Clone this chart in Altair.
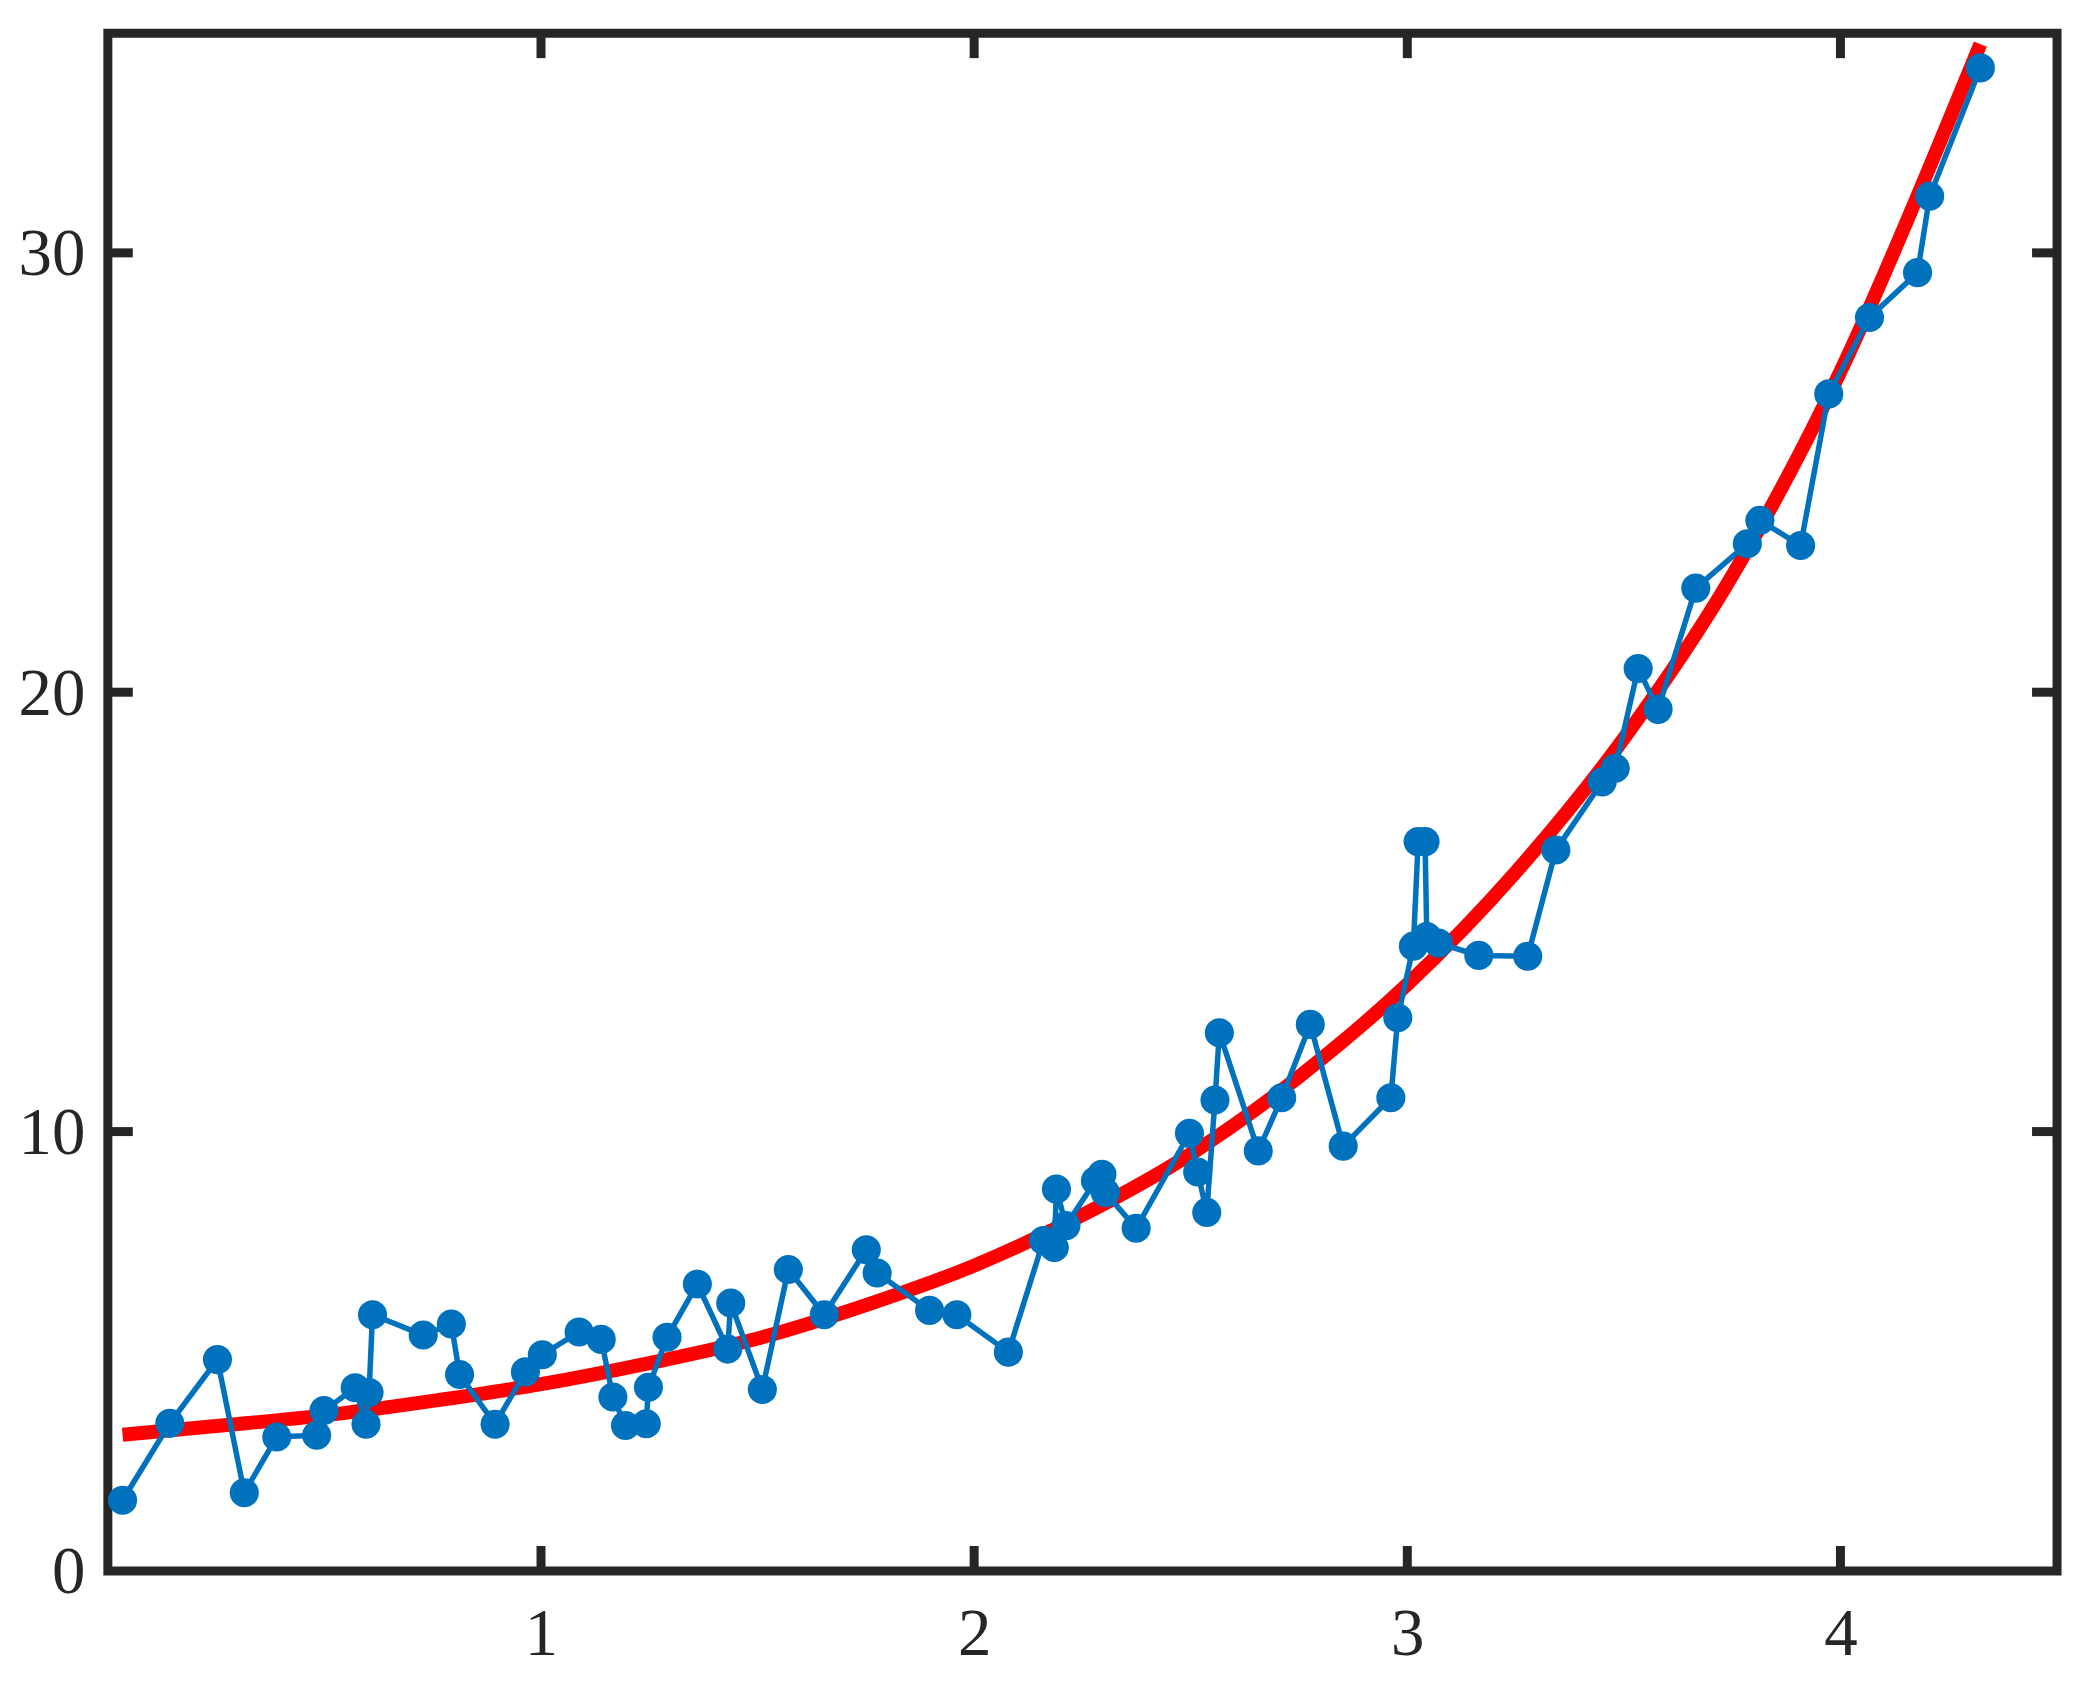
import altair as alt
import pandas as pd

# Observed data (blue markers, connected in order)
x_data = [0.034, 0.143, 0.253, 0.315, 0.390, 0.482, 0.499, 0.571, 0.596, 0.603,
          0.611, 0.728, 0.793, 0.812, 0.894, 0.964, 1.003, 1.088, 1.139, 1.166,
          1.195, 1.243, 1.248, 1.291, 1.361, 1.431, 1.438, 1.511, 1.571, 1.654,
          1.751, 1.776, 1.897, 1.960, 2.079, 2.160, 2.185, 2.190, 2.212, 2.280,
          2.295, 2.303, 2.374, 2.497, 2.516, 2.537, 2.556, 2.566, 2.656, 2.710,
          2.776, 2.852, 2.962, 2.978, 3.014, 3.025, 3.041, 3.045, 3.072, 3.165,
          3.278, 3.343, 3.450, 3.480, 3.533, 3.579, 3.666, 3.785, 3.814, 3.908,
          3.973, 4.067, 4.178, 4.206, 4.323]
y_data = [1.61, 3.36, 4.81, 1.78, 3.05, 3.09, 3.65, 4.17, 3.34, 4.06,
          5.83, 5.37, 5.62, 4.47, 3.34, 4.53, 4.92, 5.44, 5.27, 3.96,
          3.31, 3.35, 4.18, 5.32, 6.53, 5.05, 6.10, 4.13, 6.86, 5.83,
          7.31, 6.78, 5.93, 5.83, 4.98, 7.52, 7.36, 8.69, 7.86, 8.88,
          9.03, 8.61, 7.80, 9.96, 9.08, 8.16, 10.72, 12.25, 9.56, 10.77,
          12.44, 9.67, 10.77, 12.59, 14.22, 16.60, 16.60, 14.44, 14.29, 14.01,
          13.99, 16.41, 17.96, 18.27, 20.54, 19.61, 22.37, 23.38, 23.91, 23.34,
          26.79, 28.53, 29.55, 31.29, 34.21]

# Fitted curve (red)
fit_x = [0.034, 0.25, 0.5, 0.75, 1.0, 1.25, 1.5, 1.75, 2.0, 2.25,
         2.5, 2.75, 3.0, 3.25, 3.5, 3.75, 4.0, 4.25, 4.323]
fit_y = [3.10, 3.30, 3.54, 3.87, 4.25, 4.73, 5.29, 6.05, 6.95, 8.10,
         9.49, 11.25, 13.35, 15.90, 18.95, 22.65, 27.30, 33.00, 34.75]

x_ticks = [1, 2, 3, 4]
y_ticks = [0, 10, 20, 30]
y_tick_marks = [10, 20, 30]

AXIS_COLOR = "#262626"
FONT = "Liberation Serif"
FS = 67

data = pd.DataFrame({"x": x_data, "y": y_data, "i": list(range(len(x_data)))})
fit = pd.DataFrame({"x": fit_x, "y": fit_y})
xt = pd.DataFrame({"t": x_ticks})
yt = pd.DataFrame({"t": y_tick_marks})

xscale = alt.Scale(domain=[0, 4.5], nice=False, zero=False)
yscale = alt.Scale(domain=[0, 35], nice=False, zero=False)

x_axis = alt.Axis(values=x_ticks, ticks=False, tickSize=0, domain=False, grid=False,
                  labelFont=FONT, labelFontSize=FS, labelColor=AXIS_COLOR,
                  labelPadding=31, title=None, format="d")
y_axis = alt.Axis(values=y_ticks, ticks=False, tickSize=0, domain=False, grid=False,
                  labelFont=FONT, labelFontSize=FS, labelColor=AXIS_COLOR,
                  labelPadding=23, labelOffset=2, title=None, format="d")

fit_line = alt.Chart(fit).mark_line(
    color="#FF0000", strokeWidth=14, interpolate="monotone"
).encode(
    x=alt.X("x:Q", scale=xscale, axis=x_axis),
    y=alt.Y("y:Q", scale=yscale, axis=y_axis),
)

data_line = alt.Chart(data).mark_line(color="#0072BD", strokeWidth=5.5).encode(
    x=alt.X("x:Q", scale=xscale, axis=x_axis),
    y=alt.Y("y:Q", scale=yscale, axis=y_axis),
    order="i:Q",
)

points = alt.Chart(data).mark_circle(color="#0072BD", size=850, opacity=1).encode(
    x=alt.X("x:Q", scale=xscale, axis=x_axis),
    y=alt.Y("y:Q", scale=yscale, axis=y_axis),
)

TL = 25
TW = 9
bottom_ticks = alt.Chart(xt).mark_rule(color=AXIS_COLOR, strokeWidth=TW, y2Offset=-TL).encode(
    x=alt.X("t:Q", scale=xscale, axis=x_axis),
    y=alt.YDatum(0, scale=yscale, axis=y_axis),
    y2=alt.datum(0),
)
top_ticks = alt.Chart(xt).mark_rule(color=AXIS_COLOR, strokeWidth=TW, y2Offset=TL).encode(
    x=alt.X("t:Q", scale=xscale, axis=x_axis),
    y=alt.YDatum(35, scale=yscale, axis=y_axis),
    y2=alt.datum(35),
)
left_ticks = alt.Chart(yt).mark_rule(color=AXIS_COLOR, strokeWidth=TW, x2Offset=TL).encode(
    y=alt.Y("t:Q", scale=yscale, axis=y_axis),
    x=alt.XDatum(0, scale=xscale, axis=x_axis),
    x2=alt.datum(0),
)
right_ticks = alt.Chart(yt).mark_rule(color=AXIS_COLOR, strokeWidth=TW, x2Offset=-TL).encode(
    y=alt.Y("t:Q", scale=yscale, axis=y_axis),
    x=alt.XDatum(4.5, scale=xscale, axis=x_axis),
    x2=alt.datum(4.5),
)

chart = alt.layer(
    fit_line, data_line, points, bottom_ticks, top_ticks, left_ticks, right_ticks
).properties(
    width=1952,
    height=1540,
    autosize=alt.AutoSizeParams(type="none"),
    padding={"left": 100, "top": 24, "right": 20, "bottom": 110},
    background="white",
).configure_view(
    stroke=AXIS_COLOR, strokeWidth=9
)

chart.save("out.html", embed_options={"renderer": "svg", "actions": False})
